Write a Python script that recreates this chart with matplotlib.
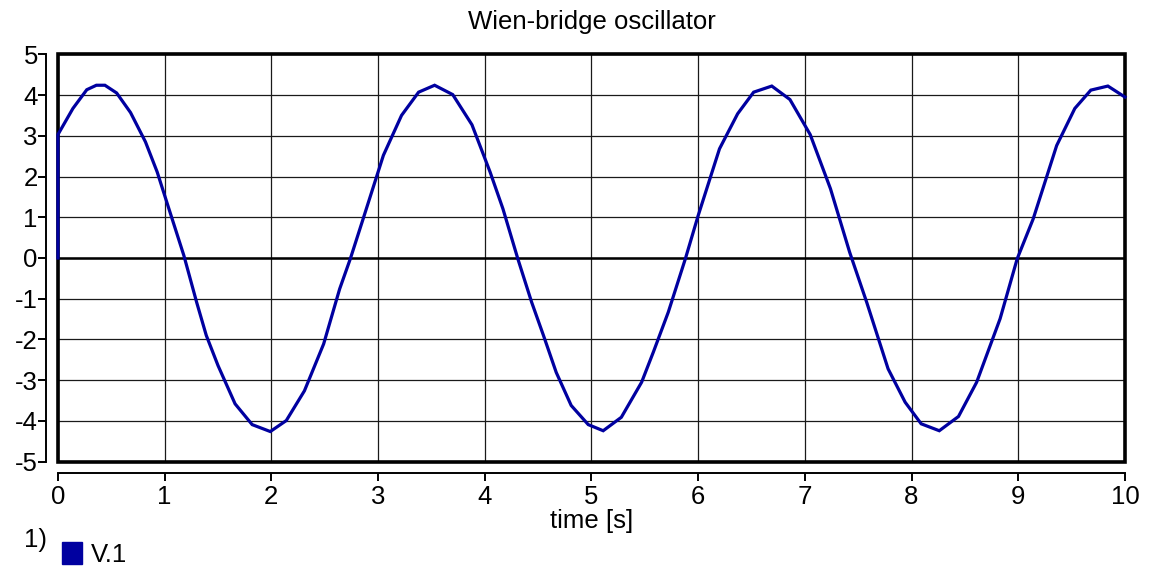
import matplotlib
matplotlib.use("Agg")
import matplotlib.pyplot as plt
from matplotlib.patches import Patch, Rectangle

# simulation output (time in s, V.1)
time_s = [0.0, 0.0, 0.14, 0.27, 0.36, 0.44, 0.55, 0.68, 0.82, 0.93, 1.02, 1.18, 1.30, 1.39,
          1.50, 1.66, 1.82, 1.99, 2.14, 2.31, 2.49, 2.64, 2.74, 2.86, 3.05, 3.22, 3.38, 3.53,
          3.70, 3.88, 4.05, 4.17, 4.31, 4.44, 4.55, 4.67, 4.81, 4.97, 5.11, 5.28, 5.47, 5.58,
          5.72, 5.88, 6.00, 6.20, 6.37, 6.52, 6.69, 6.86, 7.05, 7.24, 7.42, 7.58, 7.78, 7.94,
          8.09, 8.26, 8.44, 8.61, 8.83, 8.99, 9.14, 9.36, 9.53, 9.68, 9.84, 10.0]
v1 = [0.0, 3.03, 3.67, 4.13, 4.24, 4.24, 4.05, 3.57, 2.85, 2.11, 1.37, 0.06, -1.09, -1.90,
      -2.64, -3.58, -4.09, -4.26, -3.99, -3.26, -2.11, -0.76, -0.02, 0.96, 2.52, 3.50, 4.07, 4.24,
      4.01, 3.27, 2.11, 1.21, -0.02, -1.09, -1.90, -2.81, -3.62, -4.09, -4.24, -3.91, -3.05, -2.31,
      -1.33, -0.02, 1.04, 2.68, 3.54, 4.07, 4.22, 3.89, 3.03, 1.70, 0.14, -1.09, -2.72, -3.54,
      -4.07, -4.24, -3.89, -3.05, -1.49, -0.02, 0.96, 2.76, 3.67, 4.12, 4.22, 3.95]
xticks = list(range(0, 11))
yticks = list(range(-5, 6))

plt.rcParams["font.family"] = ["Liberation Sans", "DejaVu Sans"]
BLUE = "#0000a0"
FS = 18.5

fig = plt.figure(figsize=(11.57, 5.69), dpi=100)
ax = fig.add_axes([0.0501, 0.1886, 0.9222, 0.716])

ax.plot(time_s, v1, color=BLUE, lw=2.3, zorder=5, solid_joinstyle="miter", clip_on=False)
ax.axhline(0, color="black", lw=1.8, zorder=2)
ax.set_xlim(0, 10); ax.set_ylim(-5, 5)
ax.set_xticks(xticks); ax.set_yticks(yticks)
ax.set_yticklabels([str(v) for v in yticks])
ax.grid(True, color="#1a1a1a", lw=0.9)
ax.set_axisbelow(True)

for s in ["top", "right"]:
    ax.spines[s].set_visible(False)
ax.spines["left"].set_position(("outward", 8.5))
ax.spines["bottom"].set_position(("outward", 8.0))
for s in ["left", "bottom"]:
    ax.spines[s].set_linewidth(1.4)
ax.add_patch(Rectangle((0, 0), 1, 1, transform=ax.transAxes, fill=False,
                       edgecolor="black", lw=2.6, clip_on=False, zorder=4))
ax.tick_params(direction="out", length=6, width=1.4, labelsize=FS)
ax.tick_params(axis="y", pad=0)
ax.tick_params(axis="x", pad=3)

ax.set_title("Wien-bridge oscillator", fontsize=FS, pad=18)
ax.set_xlabel("time [s]", fontsize=FS, labelpad=0)

fig.text(0.021, 0.051, "1)", fontsize=FS, va="center")
fig.legend(handles=[Patch(facecolor=BLUE, edgecolor=BLUE)], labels=["V.1"],
           loc="center left", bbox_to_anchor=(0.034, 0.026), frameon=False,
           fontsize=FS, handlelength=0.75, handleheight=0.95, handletextpad=0.35)

fig.savefig("out.png", dpi=100)
